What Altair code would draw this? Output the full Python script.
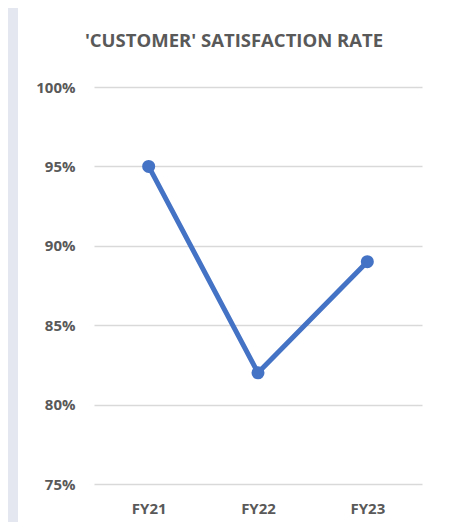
import altair as alt
import pandas as pd

categories = ["FY21", "FY22", "FY23"]
rates = [0.95, 0.82, 0.89]
y_ticks = [0.75, 0.80, 0.85, 0.90, 0.95, 1.00]

df = pd.DataFrame({"year": categories, "rate": rates})

FONT = "Open Sans"
GREY_TXT = "#595959"
BLUE = "#4472C4"

base = alt.Chart(df).encode(
    x=alt.X("year:N", sort=categories, title=None,
            scale=alt.Scale(paddingInner=0, paddingOuter=0.5),
            axis=alt.Axis(labelAngle=0, ticks=False, domain=False, grid=False,
                          labelPadding=17, labelFont=FONT, labelFontSize=15,
                          labelFontWeight="bold", labelColor=GREY_TXT)),
    y=alt.Y("rate:Q", title=None,
            scale=alt.Scale(domain=[0.75, 1.0], nice=False, zero=False),
            axis=alt.Axis(values=y_ticks, format=".0%", ticks=False, domain=False,
                          grid=True, gridColor="#D9D9D9", gridWidth=1.3,
                          labelPadding=19, labelFont=FONT, labelFontSize=15,
                          labelFontWeight="bold", labelColor=GREY_TXT)),
)

line = base.mark_line(color=BLUE, strokeWidth=5, strokeCap="round", strokeJoin="round")
points = base.mark_point(filled=True, color=BLUE, size=170, opacity=1)

strip = alt.Chart(df).mark_rect(color="#E4E7EF", clip=False).encode(
    x=alt.value(-86), x2=alt.value(-76), y=alt.value(-79), y2=alt.value(448)
)

chart = alt.layer(strip, line, points).properties(
    width=328,
    height=397,
    title=alt.TitleParams(
        "'CUSTOMER' SATISFACTION RATE",
        font=FONT, fontSize=18.5, fontWeight="bold", color=GREY_TXT,
        anchor="middle", frame="group", baseline="alphabetic", dx=-24, offset=-57,
    ),
    autosize=alt.AutoSizeParams(type="none"),
    padding={"left": 86, "top": 79, "right": 20, "bottom": 38},
    background="white",
).configure_view(strokeOpacity=0, strokeWidth=0)

chart.save("out.html", embed_options={"renderer": "svg", "actions": False})
